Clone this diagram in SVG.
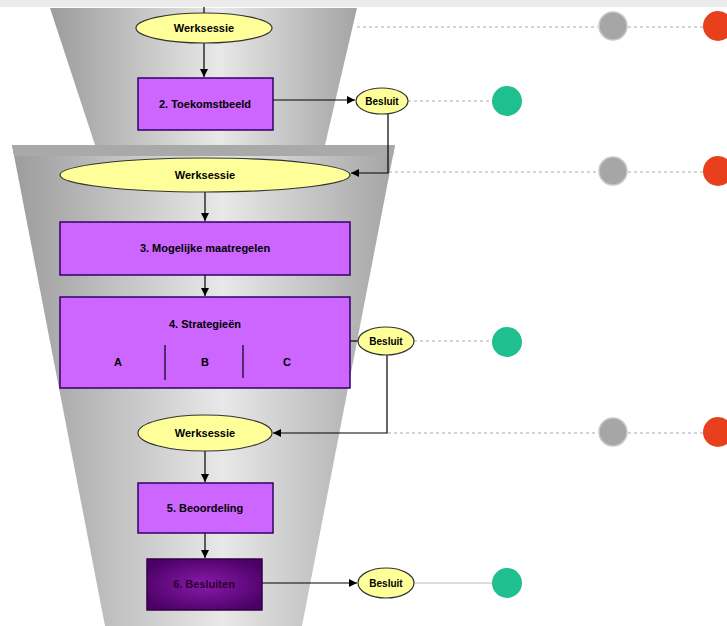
<svg xmlns="http://www.w3.org/2000/svg" width="727" height="626" viewBox="0 0 727 626">
<style>
.ws{fill:#ffff99;stroke:#333;stroke-width:1.2}
.bx{fill:#cc66ff;stroke:#330066;stroke-width:1.5}
.t{font-family:"Liberation Sans",Arial,sans-serif;font-size:11px;font-weight:bold;fill:#000;text-anchor:middle;dominant-baseline:central}
.c{stroke:#000;stroke-width:1.2;fill:none}
.d{stroke:#aaa;stroke-width:1;stroke-dasharray:3 3;fill:none}
.s{stroke:#bbb;stroke-width:1;fill:none}
.g{fill:#a6a6a6;stroke:#c8c8c8;stroke-width:1.5}
.r{fill:#e8401c}
.gr{fill:#1fbf8f}
</style>
<defs>
<linearGradient id="fun" x1="0" y1="0" x2="1" y2="0">
<stop offset="0" stop-color="#9c9c9c"/>
<stop offset="0.55" stop-color="#e8e8e8"/>
<stop offset="1" stop-color="#a4a4a4"/>
</linearGradient>
<radialGradient id="dk" cx="0.5" cy="0.5" r="0.6">
<stop offset="0" stop-color="#8a1aa8"/>
<stop offset="1" stop-color="#4a0066"/>
</radialGradient>
<marker id="a" viewBox="0 0 10 10" refX="10" refY="5" markerWidth="7" markerHeight="7" orient="auto">
<path d="M0,0 L10,5 L0,10 z" fill="#000"/>
</marker>
</defs>
<rect x="0" y="0" width="727" height="7" fill="#ebebeb"/>
<g id="funnel">
<polygon points="50,8 357,8 325,145 95,145" fill="url(#fun)"/>
<polygon points="12,145 395,145 302,626 105,626" fill="url(#fun)"/>
<polygon points="12,145 395,145 393,156 14,156" fill="#a9a9a9"/>
</g>
<g id="connectors">
<line class="c" x1="204" y1="7" x2="204" y2="14"/>
<line class="c" x1="204" y1="43" x2="204" y2="77" marker-end="url(#a)"/>
<line class="c" x1="273" y1="100" x2="355" y2="100" marker-end="url(#a)"/>
<polyline class="c" points="388,114 388,173 351,173" marker-end="url(#a)"/>
<line class="c" x1="205" y1="192" x2="205" y2="221" marker-end="url(#a)"/>
<line class="c" x1="205" y1="275" x2="205" y2="296" marker-end="url(#a)"/>
<line class="c" x1="350" y1="341" x2="358" y2="341"/>
<polyline class="c" points="387,355 387,433 273,433" marker-end="url(#a)"/>
<line class="c" x1="205" y1="451" x2="205" y2="482" marker-end="url(#a)"/>
<line class="c" x1="205" y1="533" x2="205" y2="558" marker-end="url(#a)"/>
<line class="c" x1="262" y1="583" x2="357" y2="583" marker-end="url(#a)"/>
<line class="d" x1="357" y1="27" x2="598" y2="27"/>
<line class="d" x1="628" y1="27" x2="703" y2="27"/>
<line class="d" x1="408" y1="101" x2="492" y2="101"/>
<line class="d" x1="389" y1="172" x2="598" y2="172"/>
<line class="d" x1="628" y1="172" x2="703" y2="172"/>
<line class="d" x1="414" y1="341" x2="492" y2="341"/>
<line class="d" x1="388" y1="433" x2="598" y2="433"/>
<line class="d" x1="628" y1="433" x2="703" y2="433"/>
<line class="s" x1="414" y1="583" x2="492" y2="583"/>
</g>
<g id="werksessie1"><ellipse class="ws" cx="204" cy="28" rx="68" ry="15"/><text class="t" x="204" y="28">Werksessie</text></g>
<g id="toekomstbeeld"><rect class="bx" x="138" y="78" width="135" height="52"/><text class="t" x="205" y="104">2. Toekomstbeeld</text></g>
<g id="besluit1"><ellipse class="ws" cx="382" cy="101" rx="26" ry="13"/><text class="t" x="382" y="101" style="font-size:10px">Besluit</text></g>
<g id="werksessie2"><ellipse class="ws" cx="205" cy="175" rx="145" ry="17"/><text class="t" x="205" y="175">Werksessie</text></g>
<g id="maatregelen"><rect class="bx" x="60" y="222" width="290" height="53"/><text class="t" x="205" y="248">3. Mogelijke maatregelen</text></g>
<g id="strategieen"><rect class="bx" x="60" y="297" width="290" height="91"/><text class="t" x="205" y="324">4. Strategieën</text>
<text class="t" x="118" y="362">A</text><text class="t" x="205" y="362">B</text><text class="t" x="287" y="362">C</text>
<line x1="165" y1="345" x2="165" y2="380" stroke="#000" stroke-width="1.2"/><line x1="243" y1="345" x2="243" y2="378" stroke="#000" stroke-width="1.2"/></g>
<g id="besluit2"><ellipse class="ws" cx="386" cy="341" rx="28" ry="14"/><text class="t" x="386" y="341" style="font-size:10px">Besluit</text></g>
<g id="werksessie3"><ellipse class="ws" cx="205" cy="433" rx="67" ry="18"/><text class="t" x="205" y="433">Werksessie</text></g>
<g id="beoordeling"><rect class="bx" x="138" y="483" width="135" height="50"/><text class="t" x="205" y="508">5. Beoordeling</text></g>
<g id="besluiten"><rect x="147" y="559" width="115" height="51" fill="url(#dk)" stroke="#330044" stroke-width="1.5"/><text class="t" x="204" y="584" style="fill:#2a0033">6. Besluiten</text></g>
<g id="besluit3"><ellipse class="ws" cx="386" cy="583" rx="28" ry="15"/><text class="t" x="386" y="583" style="font-size:10px">Besluit</text></g>
<g id="status">
<circle class="g" cx="613" cy="26" r="14"/><circle class="r" cx="718" cy="26" r="15"/>
<circle class="gr" cx="507" cy="101" r="15"/>
<circle class="g" cx="613" cy="171" r="14"/><circle class="r" cx="718" cy="171" r="15"/>
<circle class="gr" cx="507" cy="342" r="15"/>
<circle class="g" cx="613" cy="432" r="14"/><circle class="r" cx="718" cy="432" r="15"/>
<circle class="gr" cx="507" cy="583" r="15"/>
</g>
</svg>
